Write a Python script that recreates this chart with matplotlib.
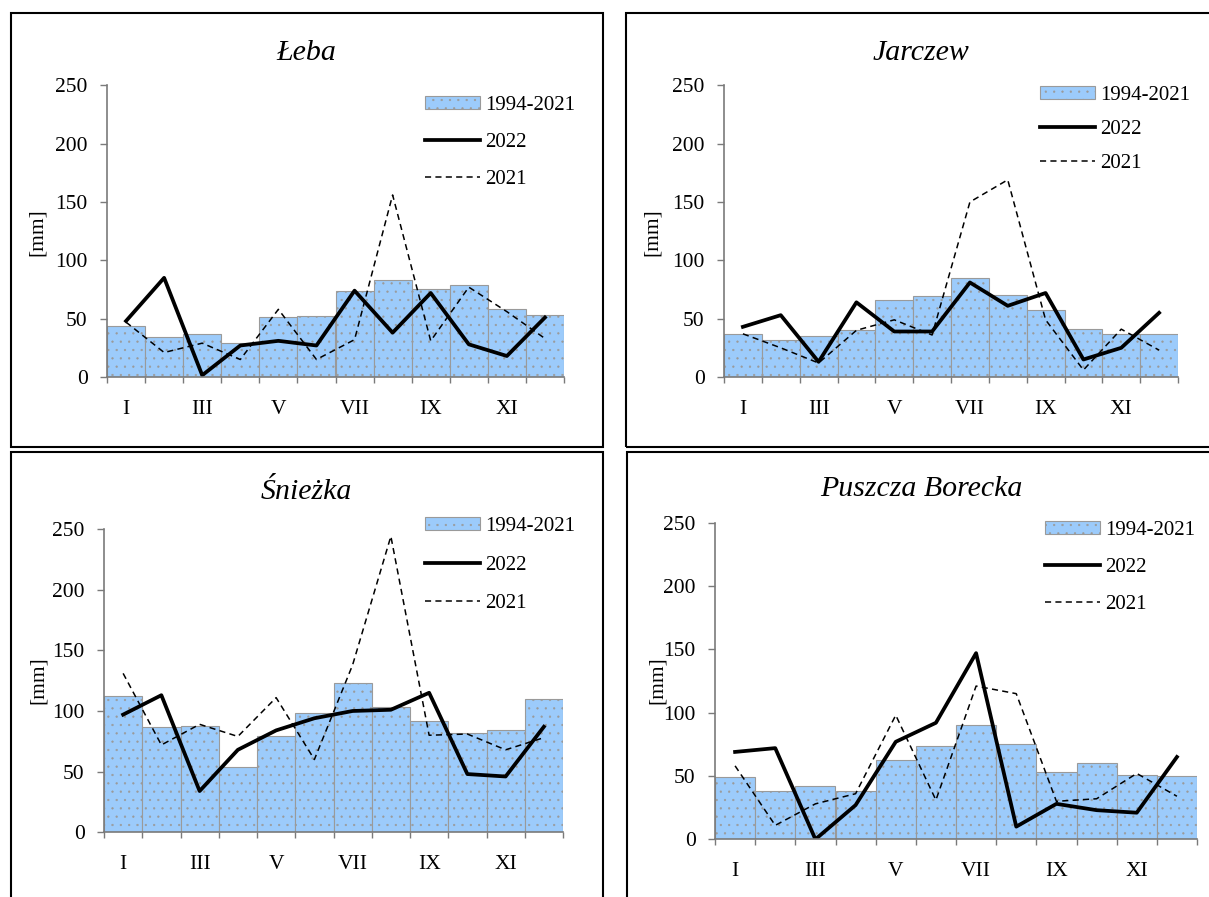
import numpy as np
import matplotlib.pyplot as plt
from matplotlib.patches import Rectangle

W, H = 1209, 897

months = ['I', 'II', 'III', 'IV', 'V', 'VI', 'VII', 'VIII', 'IX', 'X', 'XI', 'XII']
yticks = [0, 50, 100, 150, 200, 250]

# średnie 1994-2021 oraz sumy miesięczne 2022 i 2021 [mm]
leba_norm = [44, 34, 37, 29, 51, 52, 74, 83, 75, 79, 58, 53]
leba_2022 = [48, 85, 1.5, 27, 31, 27, 74, 38, 72, 28, 18, 51]
leba_2021 = [47, 21, 29, 15, 58, 15, 32, 156, 31, 77, 56, 33]

jarczew_norm = [37, 32, 35, 40, 66, 69, 85, 70, 57, 41, 37, 37]
jarczew_2022 = [43, 53, 13, 64, 39, 39, 81, 61, 72, 15, 25, 55]
jarczew_2021 = [37, 25, 12, 40, 49, 36, 150, 169, 49, 6, 41, 23]

sniezka_norm = [112, 87, 88, 54, 79, 98, 123, 103, 92, 82, 84, 110]
sniezka_2022 = [97, 113, 34, 68, 84, 94, 100, 101, 115, 48, 46, 87]
sniezka_2021 = [131, 72, 89, 79, 111, 60, 138, 244, 80, 81, 68, 78]

borecka_norm = [49, 38, 42, 38, 63, 74, 90, 75, 53, 60, 51, 50]
borecka_2022 = [69, 72, 0, 27, 77, 92, 147, 10, 28, 23, 21, 65]
borecka_2021 = [58, 11, 28, 36, 98, 31, 121, 115, 30, 32, 52, 34]

plt.rcParams['font.family'] = ['Liberation Serif', 'DejaVu Serif']
plt.rcParams['hatch.linewidth'] = 0.4

BAR_COLOR = '#9ccbfb'
GREY = '#9a9a9a'


def fx(x):
    return x / W


def fy(y):
    return 1 - y / H


def draw_panel(fig, box, axpx, title, title_y, mm_xy, leg_xy, leg_space,
               norm, y2022, y2021):
    # ramka panelu
    x0, y0, x1, y1 = box
    fig.add_artist(Rectangle((fx(x0), fy(y1)), fx(x1) - fx(x0), fy(y0) - fy(y1),
                             transform=fig.transFigure, fill=False,
                             edgecolor='black', linewidth=1.5))
    fig.text(fx((x0 + x1) / 2), fy(title_y), title, ha='center', va='center',
             fontsize=21.5, style='italic')
    fig.text(fx(mm_xy[0]), fy(mm_xy[1]), '[mm]', rotation=90,
             ha='center', va='center', fontsize=15.5)

    ax_l, ax_r, ax_b, ax_t = axpx
    ax = fig.add_axes([fx(ax_l), fy(ax_b), fx(ax_r) - fx(ax_l), fy(ax_t) - fy(ax_b)])

    x = np.arange(1, 13)
    bars = ax.bar(x, norm, width=1, color=BAR_COLOR, edgecolor=GREY,
                  linewidth=0.8, hatch='..', label='1994-2021')
    l1, = ax.plot(x, y2022, color='black', linewidth=2.7, label='2022')
    l2, = ax.plot(x, y2021, color='black', linewidth=1.1, linestyle='--',
                  dashes=(4, 2.8), label='2021')

    ax.set_xlim(0.5, 12.5)
    ax.set_ylim(0, 250)
    for s in ['top', 'right']:
        ax.spines[s].set_visible(False)
    for s in ['left', 'bottom']:
        ax.spines[s].set_color('#7a7a7a')
        ax.spines[s].set_linewidth(1.2)

    ax.set_yticks(yticks)
    ax.tick_params(axis='y', direction='out', length=5, width=1,
                   color='#7a7a7a', labelsize=15.5, pad=9)
    ax.set_xticks(np.arange(0.5, 13, 1))
    ax.set_xticklabels([])
    ax.tick_params(axis='x', which='major', direction='out', length=4.5,
                   width=1, color='#7a7a7a')
    ax.set_xticks(x[::2], minor=True)
    ax.set_xticklabels(months[::2], minor=True)
    ax.tick_params(axis='x', which='minor', length=0, labelsize=15.5, pad=16.5)

    ax.legend([bars, l1, l2], ['1994-2021', '2022', '2021'],
              loc='upper left', bbox_to_anchor=(fx(leg_xy[0]), fy(leg_xy[1])),
              bbox_transform=fig.transFigure, frameon=False, fontsize=15,
              borderpad=0, borderaxespad=0, handlelength=2.65,
              handleheight=0.55, handletextpad=0.22, labelspacing=leg_space)
    return ax


fig = plt.figure(figsize=(W / 100, H / 100), dpi=100)

draw_panel(fig, (10.5, 13, 603, 447), (107, 564, 377, 85.3), 'Łeba', 53,
           (37, 232), (425, 96), 0.86, leba_norm, leba_2022, leba_2021)
draw_panel(fig, (626.5, 13, 1216, 447), (724, 1178, 377, 85.3), 'Jarczew', 53,
           (652, 232), (1040, 86), 0.72, jarczew_norm, jarczew_2022, jarczew_2021)
draw_panel(fig, (10.5, 452, 603, 902), (104, 563, 832.3, 529), 'Śnieżka', 492,
           (38, 680), (425, 517), 0.94, sniezka_norm, sniezka_2022, sniezka_2021)
draw_panel(fig, (627, 452, 1216, 902), (715, 1197, 839.3, 522.7), 'Puszcza Borecka', 489,
           (657, 680), (1045, 521), 0.86, borecka_norm, borecka_2022, borecka_2021)

fig.savefig('out.png', dpi=100)
